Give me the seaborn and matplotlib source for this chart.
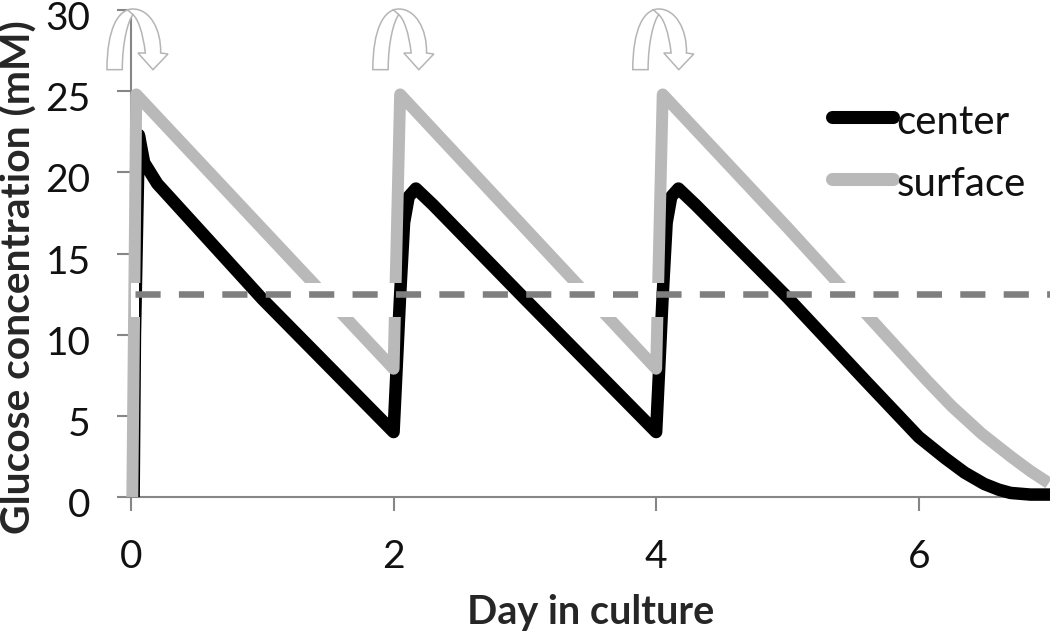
import numpy as np
import pandas as pd
import matplotlib
matplotlib.use('Agg')
import matplotlib.pyplot as plt
import seaborn as sns
from matplotlib.patches import PathPatch, Rectangle
from matplotlib.path import Path
from matplotlib.transforms import Affine2D, ScaledTranslation

# values
center_day = [0.02, 0.03, 0.06, 0.1, 0.2, 1.0, 2.0, 2.05, 2.08, 2.115, 2.17, 2.3, 3.0, 4.0,
              4.05, 4.08, 4.115, 4.17, 4.3, 5.0, 5.59, 6.0, 6.2, 6.35, 6.5, 6.61, 6.7, 6.85, 7.0]
center_mM = [0.0, 10.0, 22.3, 20.6, 19.3, 12.2, 4.0, 12.45, 16.9, 18.5, 19.0, 18.0, 12.2, 4.0,
             12.45, 16.9, 18.5, 19.0, 18.0, 12.3, 7.2, 3.7, 2.4, 1.5, 0.8, 0.45, 0.25, 0.15, 0.15]
surface_day = [0.01, 0.04, 2.0, 2.05, 4.0, 4.05, 5.0, 6.06, 6.25, 6.48, 6.7, 6.85, 6.99]
surface_mM = [0.0, 24.8, 7.9, 24.8, 7.9, 24.8, 16.6, 7.2, 5.6, 3.9, 2.5, 1.6, 0.86]
threshold_day = [0.03, 7.0]
threshold_mM = [12.5, 12.5]
flip_days = [0.015, 2.04, 4.02]
x_ticks = [0, 2, 4, 6]
y_ticks = [0, 5, 10, 15, 20, 25, 30]

black = '#000000'
gray = '#b9b9b9'
axis_gray = '#868686'
dash_gray = '#7f7f7f'

sns.set_style('white')
plt.rcParams['font.family'] = ['Lato', 'DejaVu Sans']

fig = plt.figure(figsize=(10.5, 6.32), dpi=100)
ax = fig.add_axes([131 / 1050, 1 - 497 / 632, 919 / 1050, 487 / 632])

center_df = pd.DataFrame({'day': center_day, 'glucose': center_mM})
surface_df = pd.DataFrame({'day': surface_day, 'glucose': surface_mM})
line_style = dict(estimator=None, sort=False, solid_capstyle='butt', solid_joinstyle='round', clip_on=False)

sns.lineplot(data=center_df, x='day', y='glucose', color=black, linewidth=9, zorder=3, label='center', ax=ax, **line_style)
center_line = ax.lines[-1]
sns.lineplot(data=surface_df, x='day', y='glucose', color=gray, linewidth=8.6, zorder=4, label='surface', ax=ax, **line_style)
surface_line = ax.lines[-1]

# white strip cut across the surface curve, black curve stays on top of it
ax.axhspan(11.1, 13.2, color='white', lw=0, zorder=5)
sns.lineplot(data=center_df, x='day', y='glucose', color=black, linewidth=9, zorder=6, legend=False, ax=ax,
             estimator=None, sort=False, solid_joinstyle='round')
ax.lines[-1].set_clip_path(Rectangle((0.06, 11.1), 6.94, 2.1, transform=ax.transData))

sns.lineplot(x=threshold_day, y=threshold_mM, color=dash_gray, linewidth=4.7, zorder=7, legend=False, ax=ax,
             estimator=None, sort=False, dashes=False)
ax.lines[-1].set_linestyle((0, (3.85, 2.8)))
ax.lines[-1].set_dash_capstyle('butt')

ax.set_xlim(0, 7)
ax.set_ylim(0, 30)
ax.set_xticks(x_ticks)
ax.set_yticks(y_ticks)
ax.tick_params(axis='both', direction='out', length=10, width=1.5, color=axis_gray, labelsize=28, labelcolor='#111111',
               left=True, bottom=True)
ax.tick_params(axis='x', pad=20)
ax.tick_params(axis='y', pad=19)
sns.despine(ax=ax)
for side in ['left', 'bottom']:
    ax.spines[side].set_color(axis_gray)
    ax.spines[side].set_linewidth(1.5)

# y tick labels sit a little below their ticks
nudge = ScaledTranslation(0, -4 / 72, fig.dpi_scale_trans)
for label in ax.get_yticklabels():
    label.set_transform(label.get_transform() + nudge)

ax.set_xlabel('Day in culture', fontsize=28.5, fontweight='bold', labelpad=14)
ax.set_ylabel('Glucose concentration (mM)', fontsize=29.3, fontweight='bold')
ax.yaxis.set_label_coords(-0.102, 0.452)

leg = ax.legend(handles=[center_line, surface_line], loc='upper left', bbox_to_anchor=(0.763, 0.807),
                frameon=False, fontsize=29, handlelength=1.5, handletextpad=0.1, labelspacing=0.62,
                borderpad=0, borderaxespad=0)
for text in leg.get_texts():
    text.set_color('#111111')
for handle in leg.get_lines():
    handle.set_linewidth(9.4)
    handle.set_solid_capstyle('round')
    handle.set_ydata(np.asarray(handle.get_ydata()) + 2)

# curved medium-change arrows, outline traced in pixels around the arrow's top centre
codes = [Path.MOVETO, Path.CURVE4, Path.CURVE4, Path.CURVE4, Path.CURVE4, Path.CURVE4, Path.CURVE4,
         Path.LINETO, Path.LINETO, Path.LINETO, Path.LINETO, Path.CURVE4, Path.CURVE4, Path.CURVE4,
         Path.CURVE4, Path.CURVE4, Path.CURVE4, Path.CLOSEPOLY, Path.MOVETO, Path.LINETO]
verts = [(-78, 182), (-78, 60), (-45, 0), (0, 0), (50, 0), (85, 60), (83, 132),
         (105, 135), (60, 182), (15, 132), (37, 132), (30, 70), (15, 30), (0, 17),
         (-15, 35), (-32, 100), (-32, 182), (-78, 182), (0, 17), (-18, 1)]
fig.canvas.draw()
for day in flip_days:
    px, _ = ax.transData.transform((day, 30))
    shift = Affine2D().scale(1 / 3).scale(1, -1).translate(px, 632 - 9)
    patch = PathPatch(Path(verts, codes), facecolor='white', edgecolor='#b5b5b5', linewidth=1.1,
                      transform=shift, zorder=9, clip_on=False)
    fig.add_artist(patch)

plt.savefig('out.png', dpi=100)
